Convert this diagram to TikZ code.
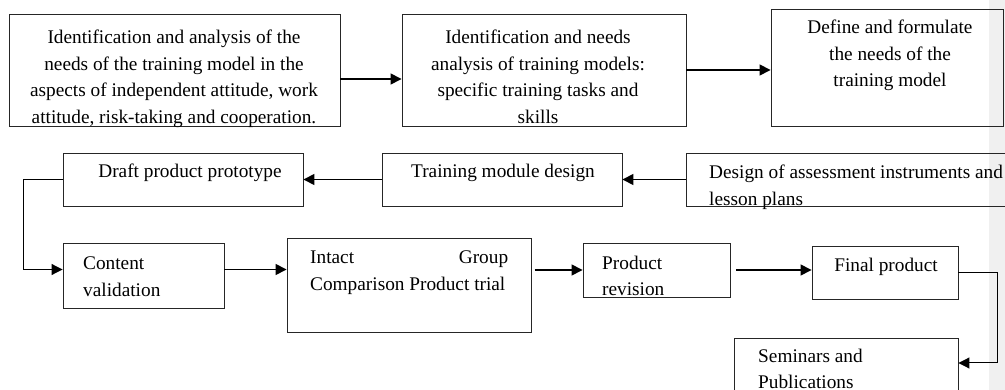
\documentclass[tikz,border=0pt]{standalone}
\usepackage{fontspec}
\setmainfont{Liberation Serif}
\usetikzlibrary{arrows.meta}
\begin{document}
\begin{tikzpicture}[x=1pt,y=-1pt,
  box/.style={draw=black!85, line width=0.9pt, inner sep=0pt},
  txt/.style={inner sep=0pt, font=\fontsize{19.3}{26.7}\selectfont},
  arr/.style={line width=1.5pt, -{Triangle[length=11pt,width=11pt]}},
  elbow/.style={line width=1pt, -{Triangle[length=11pt,width=11pt]}}]
\useasboundingbox[fill=white] (0,0) rectangle (1005,390);
\fill[black!6] (989,0) rectangle (1005,390);
% boxes
\node[box, minimum width=331pt, minimum height=112pt] (b1) at (174.5,70) {};
\node[box, minimum width=284pt, minimum height=112pt] (b2) at (544,70) {};
\node[box, minimum width=232pt, minimum height=117pt] (b3) at (887,67.5) {};
\node[box, minimum width=240pt, minimum height=53pt] (draft) at (183,179.5) {};
\node[box, minimum width=240pt, minimum height=53pt] (train) at (502,179.5) {};
\node[box, minimum width=326pt, minimum height=53pt] (design) at (849,179.5) {};
\node[box, minimum width=161pt, minimum height=65pt] (content) at (143.5,275.5) {};
\node[box, minimum width=244pt, minimum height=94pt] (intact) at (409,285) {};
\node[box, minimum width=147pt, minimum height=54pt] (revision) at (656.5,270) {};
\node[box, minimum width=146pt, minimum height=53pt] (final) at (885,272.5) {};
\node[box, minimum width=224pt, minimum height=62pt] (seminars) at (846,369) {};
% texts
\node[txt, align=center, anchor=north] (t1) at (174,29.7)
  {Identification and analysis of the\\needs of the training model in the\\aspects of independent attitude, work\\attitude, risk-taking and cooperation.};
\node[txt, align=center, anchor=north] (t2) at (538,29.7)
  {Identification and needs\\analysis of training models:\\specific training tasks and\\skills};
\node[txt, align=center, anchor=north] (t3) at (890,19.7)
  {Define and formulate\\the needs of the\\training model};
\node[txt, anchor=base] (t4) at (190,178) {Draft product prototype};
\node[txt, anchor=base] (t5) at (503,178) {Training module design};
\node[txt, align=left, anchor=north west] (t6) at (709,164.7)
  {Design of assessment instruments and\\lesson plans};
\node[txt, align=left, anchor=north west] (t7) at (83,256.7)
  {Content\\validation};
\node[txt, align=left, anchor=north west] (t8) at (310,250.7)
  {\makebox[198pt][s]{Intact Group}\\Comparison Product trial};
\node[txt, align=left, anchor=north west] (t9) at (602,255.7)
  {Product\\revision};
\node[txt, anchor=base] (t10) at (886,272) {Final product};
\node[txt, align=left, anchor=north west] (t11) at (758,348.7)
  {Seminars and\\Publications};
% connectors
\draw[arr] ([yshift=-9pt]b1.east) -- ([yshift=-9pt]b2.west);
\draw[arr] (b2.east) -- (b2.east -| b3.west);
\draw[arr] (design.west) -- (train.east);
\draw[arr] (train.west) -- (draft.west -| draft.east);
\draw[elbow] (draft.west) -- ++(-39,0) |- ([yshift=6pt]content.west);
\draw[arr] ([yshift=6pt]content.east) -- ([yshift=6pt]content.east -| intact.west);
\draw[arr] ([xshift=-48pt]revision.west) -- (revision.west);
\draw[arr] ([xshift=6pt]revision.east) -- (revision.east -| final.west);
\draw[elbow] (final.east) -- ++(39,0) |- ([yshift=6pt]seminars.east);
\end{tikzpicture}
\end{document}
